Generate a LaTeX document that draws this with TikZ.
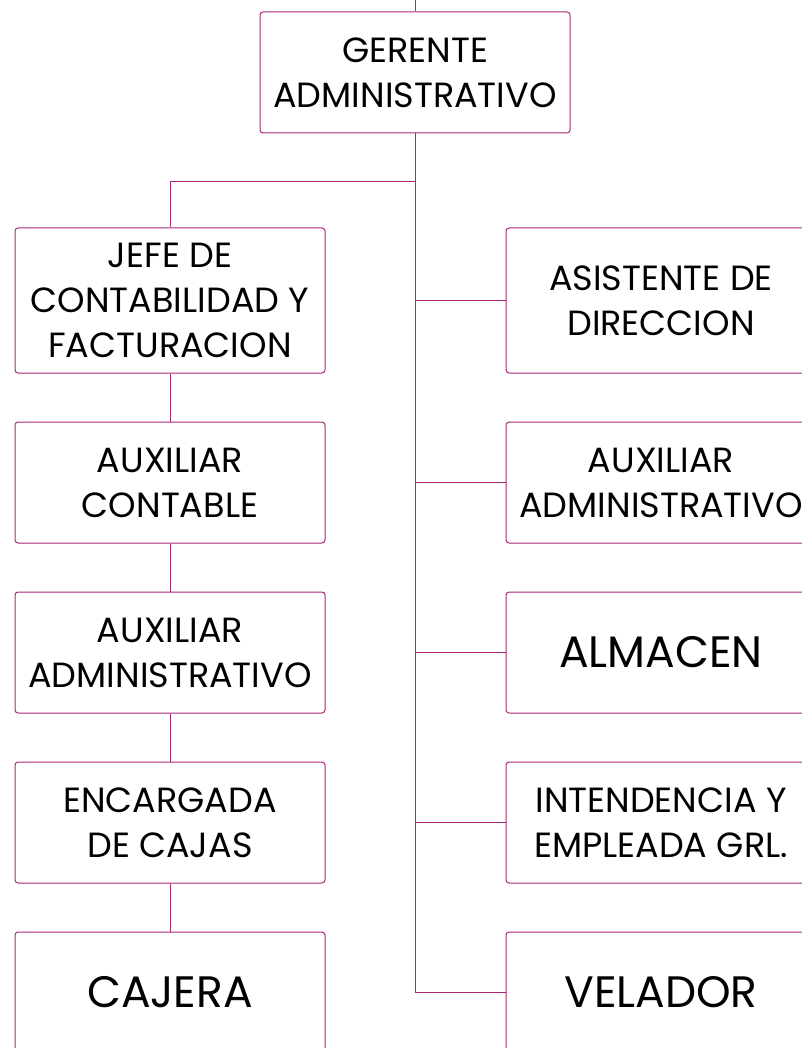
\documentclass[tikz,border=0pt]{standalone}
\usepackage{fontspec}
\setmainfont{Poppins}
\usetikzlibrary{positioning}
\definecolor{linea}{RGB}{168,40,118}
\tikzset{
  puesto/.style={draw=linea, line width=1pt, rounded corners=3pt,
    minimum width=310pt, minimum height=121pt, inner sep=0pt,
    align=center, font=\fontsize{35}{45}\selectfont},
  puestoalto/.style={puesto, minimum height=145pt},
  puestogrande/.style={puesto, font=\fontsize{44}{50}\selectfont},
  rama/.style={draw=linea, line width=1pt}
}
\begin{document}
\begin{tikzpicture}[x=1pt, y=-1pt, node distance=48pt]
    \useasboundingbox (0,0) rectangle (802,1048);
    \clip (0,0) rectangle (802,1048);

    % Gerencia
    \node[puesto] (gerente) at (415,72.5) {GERENTE\\ADMINISTRATIVO};
    \coordinate (arriba) at (415,0);
    \coordinate (bus) at (415,182);

    % Columna izquierda
    \node[puestoalto] (jefe) at (170,300.5) {JEFE DE\\CONTABILIDAD Y\\FACTURACION};
    \node[puesto] (auxcont) [below=of jefe] {AUXILIAR\\CONTABLE};
    \node[puesto] (auxadm) [below=of auxcont] {AUXILIAR\\ADMINISTRATIVO};
    \node[puesto] (encargada) [below=of auxadm] {ENCARGADA\\DE CAJAS};
    \node[puestogrande] (cajera) [below=of encargada] {CAJERA};

    % Columna derecha
    \node[puestoalto] (asistente) [right=180pt of jefe] {ASISTENTE DE\\DIRECCION};
    \node[puesto] (auxadmd) [below=of asistente] {AUXILIAR\\ADMINISTRATIVO};
    \node[puestogrande] (almacen) [below=of auxadmd] {ALMACEN};
    \node[puesto] (intendencia) [below=of almacen] {INTENDENCIA Y\\EMPLEADA GRL.};
    \node[puestogrande] (velador) [below=of intendencia] {VELADOR};

    % Lineas
    \draw[rama] (arriba) -- (gerente.north);
    \draw[rama] (gerente.south) -- (gerente.south |- velador.west) -- (velador.west);
    \draw[rama] (bus) -| (jefe.north);
    \draw[rama] (jefe.south) -- (auxcont.north);
    \draw[rama] (auxcont.south) -- (auxadm.north);
    \draw[rama] (auxadm.south) -- (encargada.north);
    \draw[rama] (encargada.south) -- (cajera.north);
    \foreach \n in {asistente, auxadmd, almacen, intendencia}
      \draw[rama] (gerente.south |- \n.west) -- (\n.west);
  \end{tikzpicture}
\end{document}
